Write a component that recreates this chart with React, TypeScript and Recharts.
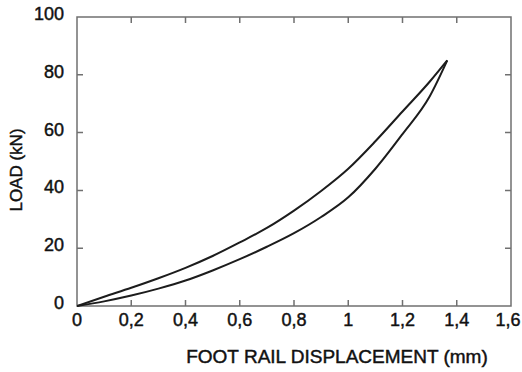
import { LineChart, Line, XAxis, YAxis, ReferenceArea } from "recharts";

const displacement = [0, 0.1, 0.2, 0.3, 0.4, 0.5, 0.6, 0.7, 0.8, 0.9, 1.0, 1.1, 1.2, 1.3, 1.365];
const loadingLoad = [0, 1.6, 3.6, 6, 8.8, 12.3, 16.2, 20.5, 25.2, 30.8, 37.6, 47.5, 59.5, 72.5, 85];
const unloadingLoad = [0, 3.2, 6.3, 9.6, 13.2, 17.3, 22, 27, 33, 39.8, 47.5, 57, 67.3, 77.6, 85];

const xTicks = [0, 0.2, 0.4, 0.6, 0.8, 1, 1.2, 1.4, 1.6];
const yTicks = [0, 20, 40, 60, 80, 100];

const loading = displacement.map((x, i) => ({ x, load: loadingLoad[i] }));
const unloading = displacement.map((x, i) => ({ x, load: unloadingLoad[i] }));

const fmt = (v: number) => String(v).replace(".", ",");

// plot box, from the chart margins below
const W = 522;
const H = 372;
const M = { top: 17, right: 11, bottom: 0, left: 0 };
const Y_AXIS_W = 77;
const X_AXIS_H = 66;
const PLOT_TOP = M.top;
const PLOT_BOTTOM = H - M.bottom - X_AXIS_H;
const PLOT_LEFT = M.left + Y_AXIS_W;
const PLOT_RIGHT = W - M.right;
const X_MAX = 1.6;
const Y_MAX = 100;

const frame = "#707070";
const ink = "#1c1c1c";
const textColor = "#111";
const TICK = 6;
const textStyle = { stroke: textColor, strokeWidth: 0.45 };

const BottomTick = (props: any) => {
  const { x, payload } = props;
  const last = x >= PLOT_RIGHT - 2;
  return (
    <text
      x={last ? x - 3 : x}
      y={PLOT_BOTTOM + 20}
      textAnchor="middle"
      fill={textColor}
      fontSize={18}
      style={textStyle}
    >
      {fmt(payload.value)}
    </text>
  );
};

const LeftTick = (props: any) => {
  const { y, payload } = props;
  return (
    <text
      x={PLOT_LEFT - 13}
      y={y + 3}
      textAnchor="end"
      fill={textColor}
      fontSize={18}
      style={textStyle}
    >
      {payload.value}
    </text>
  );
};

// inward tick marks on all four sides of the box
const TickMarks = () => {
  const sx = (v: number) => PLOT_LEFT + (v / X_MAX) * (PLOT_RIGHT - PLOT_LEFT);
  const sy = (v: number) => PLOT_BOTTOM - (v / Y_MAX) * (PLOT_BOTTOM - PLOT_TOP);
  let d = "";
  xTicks.slice(1, -1).forEach((t) => {
    const x = sx(t);
    d += `M${x},${PLOT_BOTTOM}V${PLOT_BOTTOM - TICK}M${x},${PLOT_TOP}V${PLOT_TOP + TICK}`;
  });
  yTicks.slice(1, -1).forEach((t) => {
    const y = sy(t);
    d += `M${PLOT_LEFT},${y}H${PLOT_LEFT + TICK}M${PLOT_RIGHT},${y}H${PLOT_RIGHT - TICK}`;
  });
  return (
    <svg
      width={W}
      height={H}
      style={{ position: "absolute", left: 0, top: 0, pointerEvents: "none" }}
    >
      <path d={d} stroke={frame} strokeWidth={1.5} fill="none" />
    </svg>
  );
};

const App = () => {
  return (
    <div
      style={{
        position: "absolute",
        left: 0,
        top: 0,
        width: W,
        height: H,
        background: "#fff",
        fontFamily: "'Liberation Sans', Arial, sans-serif",
      }}
    >
      <LineChart width={W} height={H} margin={M}>
        <XAxis
          type="number"
          dataKey="x"
          domain={[0, X_MAX]}
          ticks={xTicks}
          allowDataOverflow
          height={X_AXIS_H}
          axisLine={false}
          tickLine={false}
          tickSize={0}
          tickMargin={7}
          tick={<BottomTick />}
          interval={0}
          label={{
            content: () => (
              <text
                x={337}
                y={363}
                textAnchor="middle"
                fill={textColor}
                fontSize={19}
                style={textStyle}
              >
                FOOT RAIL DISPLACEMENT (mm)
              </text>
            ),
          }}
        />
        <YAxis
          type="number"
          domain={[0, Y_MAX]}
          ticks={yTicks}
          width={Y_AXIS_W}
          axisLine={false}
          tickLine={false}
          tickSize={0}
          tickMargin={13}
          tick={<LeftTick />}
          interval={0}
          label={{
            content: () => (
              <text
                x={16}
                y={170}
                transform="rotate(-90 16 170)"
                textAnchor="middle"
                dominantBaseline="central"
                fill={textColor}
                fontSize={17}
                style={textStyle}
              >
                LOAD (kN)
              </text>
            ),
          }}
        />
        <ReferenceArea
          x1={0}
          x2={X_MAX}
          y1={0}
          y2={Y_MAX}
          fill="none"
          stroke={frame}
          strokeWidth={1.5}
          ifOverflow="visible"
        />
        <Line
          data={loading}
          dataKey="load"
          type="monotone"
          stroke={ink}
          strokeWidth={2}
          dot={false}
          isAnimationActive={false}
        />
        <Line
          data={unloading}
          dataKey="load"
          type="monotone"
          stroke={ink}
          strokeWidth={2}
          dot={false}
          isAnimationActive={false}
        />
      </LineChart>
      <TickMarks />
    </div>
  );
};

export default App;
